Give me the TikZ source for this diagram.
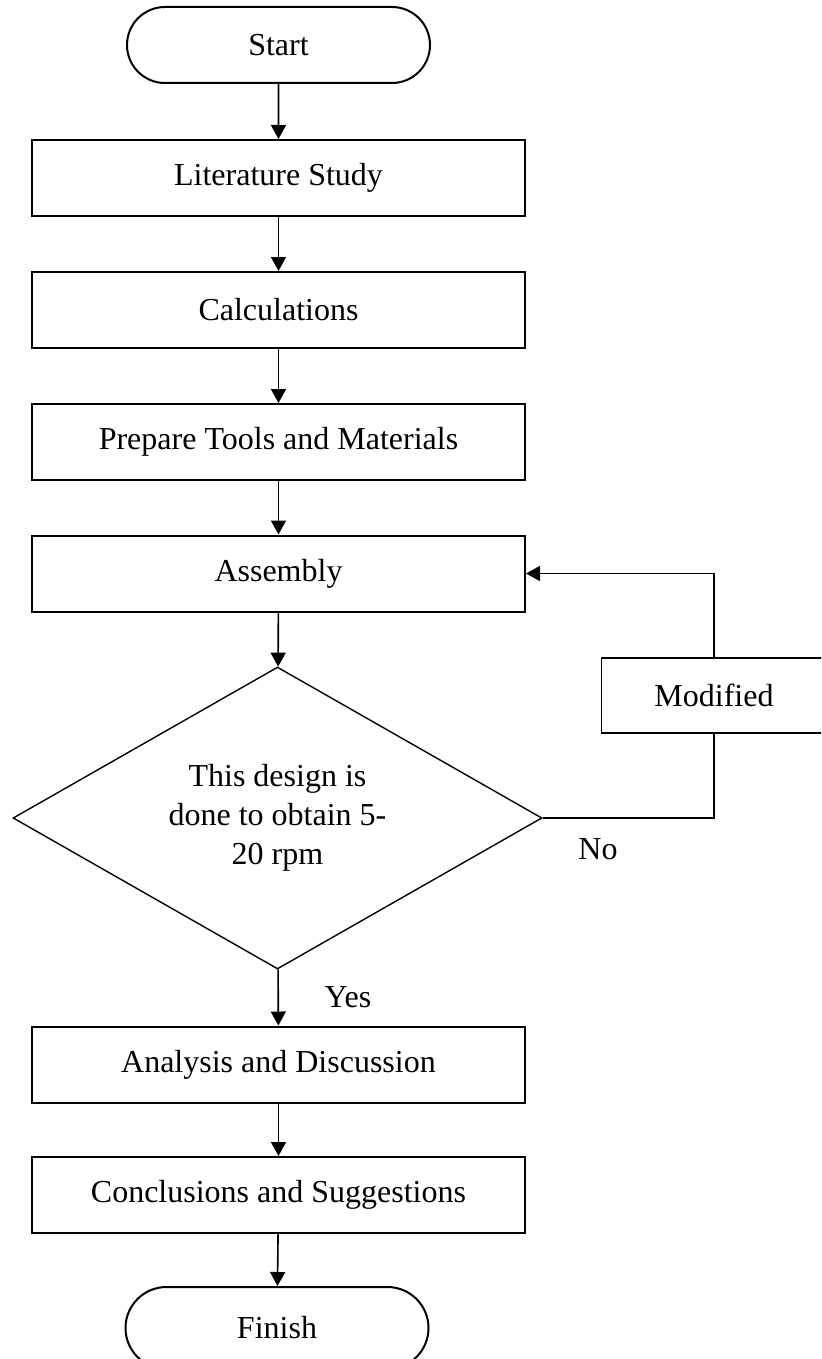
\documentclass[tikz,border=0pt]{standalone}
\usepackage{fontspec}
\setmainfont{Liberation Serif}
\usetikzlibrary{shapes.misc,shapes.geometric,arrows.meta}
\begin{document}
\begin{tikzpicture}[x=0.5pt,y=-0.5pt,
  font=\fontsize{16}{18.5}\selectfont,
  procbox/.style={draw,line width=1pt,rectangle,minimum width=246.5pt,minimum height=38pt,inner sep=0pt},
  termbox/.style={draw,line width=1pt,rounded rectangle,minimum width=151.5pt,minimum height=38pt,inner sep=0pt},
  decbox/.style={draw,line width=0.7pt,diamond,aspect=1.75,minimum width=264.5pt,minimum height=151pt,inner sep=0pt,align=center,font=\fontsize{16}{19.5}\selectfont},
  modbox/.style={draw,line width=0.8pt,rectangle,minimum width=112.5pt,minimum height=37.5pt,inner sep=0pt},
  conn/.style={line width=0.8pt,-{Triangle[length=7pt,width=7.5pt]}},
  plain/.style={line width=0.8pt},
  lbl/.style={inner sep=0pt}]
\useasboundingbox (0,0) rectangle (821,1359);
\begin{scope}
\clip (0,0) rectangle (821,1359);
\node[termbox] (start) at (278.5,45) {Start};
\node[procbox] (lit) at (278.5,178) {Literature Study};
\node[procbox] (calc) at (278.5,310) {Calculations};
\node[procbox] (prep) at (278.5,442) {Prepare Tools and Materials};
\node[procbox] (asm) at (278.5,573.5) {Assembly};
\node[decbox] (dec) at (277.5,818) {This design is\\done to obtain 5-\\20 rpm};
\node[modbox] (mod) at (714,695.5) {Modified};
\node[procbox] (ana) at (278.5,1064.5) {Analysis and Discussion};
\node[procbox] (conc) at (278.5,1195) {Conclusions and Suggestions};
\node[termbox,minimum height=41pt] (fin) at (277,1328) {Finish};
\node[lbl] (no) at (598,849) {No};
\node[lbl] (yes) at (348,997) {Yes};
\draw[conn] (start) -- (lit);
\draw[conn] (lit) -- (calc);
\draw[conn] (calc) -- (prep);
\draw[conn] (prep) -- (asm);
\draw[conn] (asm) -- (dec);
\draw[conn] (dec) -- (ana);
\draw[conn] (ana) -- (conc);
\draw[conn] (conc) -- (fin);
\draw[plain] (dec.east) -| (mod.south);
\draw[conn] (mod.north) |- (asm.east);
\end{scope}
\end{tikzpicture}
\end{document}
